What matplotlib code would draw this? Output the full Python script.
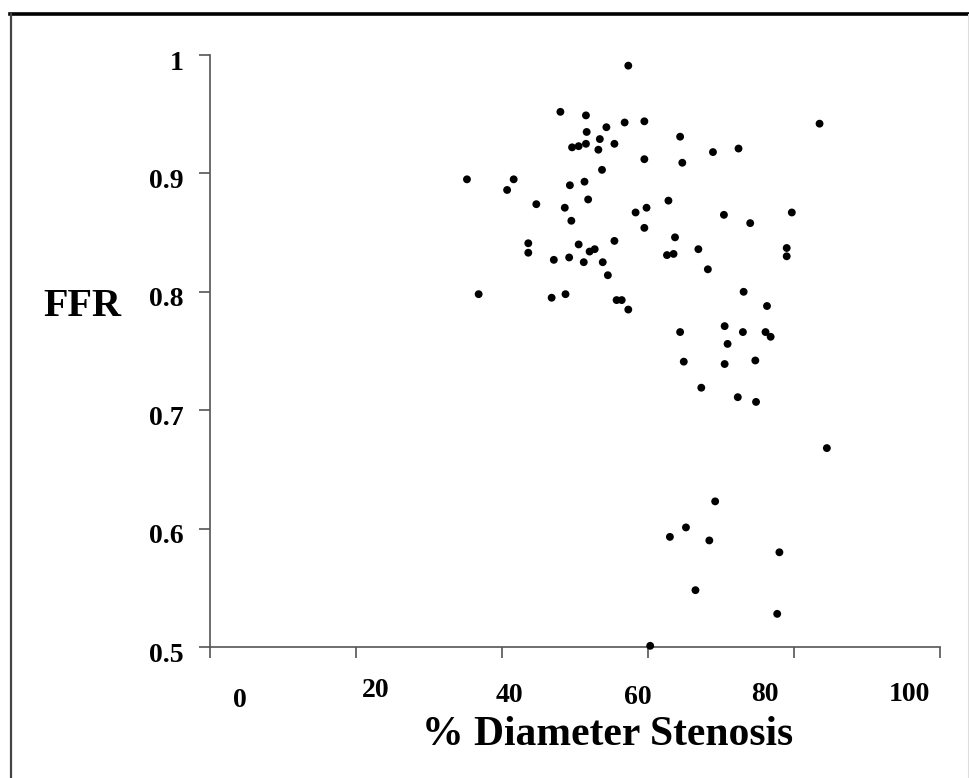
import matplotlib.pyplot as plt
from matplotlib.lines import Line2D
from matplotlib.transforms import ScaledTranslation

# % diameter stenosis vs FFR
stenosis = [57.3, 48.0, 51.5, 56.8, 59.5, 54.3, 51.6, 53.4, 49.6, 50.5,
            51.5, 53.2, 55.4, 59.5, 53.7, 35.2, 41.6, 40.7, 51.3, 49.3,
            51.8, 44.7, 48.6, 49.5, 58.3, 59.8, 59.5, 43.6, 43.6, 50.5,
            52.0, 52.7, 55.4, 47.1, 49.2, 51.2, 53.8, 54.5, 36.8, 46.8,
            48.7, 55.7, 56.4, 57.3,
            64.4, 64.7, 68.9, 72.4, 83.5, 62.8, 70.4, 74.0, 79.7, 63.7,
            62.6, 63.5, 66.9, 79.0, 79.0, 68.2, 73.1, 76.3, 70.5,
            64.4, 73.0, 76.1, 76.8, 70.9, 64.9, 70.5, 74.7, 67.3, 72.3,
            74.8, 84.5, 69.2, 65.2, 63.0, 68.4, 78.0, 66.5, 77.7, 60.3]
ffr = [0.991, 0.952, 0.949, 0.943, 0.944, 0.939, 0.935, 0.929, 0.922, 0.923,
       0.925, 0.920, 0.925, 0.912, 0.903, 0.895, 0.895, 0.886, 0.893, 0.890,
       0.878, 0.874, 0.871, 0.860, 0.867, 0.871, 0.854, 0.841, 0.833, 0.840,
       0.834, 0.836, 0.843, 0.827, 0.829, 0.825, 0.825, 0.814, 0.798, 0.795,
       0.798, 0.793, 0.793, 0.785,
       0.931, 0.909, 0.918, 0.921, 0.942, 0.877, 0.865, 0.858, 0.867, 0.846,
       0.831, 0.832, 0.836, 0.837, 0.830, 0.819, 0.800, 0.788, 0.771,
       0.766, 0.766, 0.766, 0.762, 0.756, 0.741, 0.739, 0.742, 0.719, 0.711,
       0.707, 0.668, 0.623, 0.601, 0.593, 0.590, 0.580, 0.548, 0.528, 0.501]

x_ticks = [0, 20, 40, 60, 80, 100]
y_ticks = [0.5, 0.6, 0.7, 0.8, 0.9, 1.0]
y_labels = ['0.5', '0.6', '0.7', '0.8', '0.9', '1']

plt.rcParams['font.family'] = ['Liberation Serif', 'DejaVu Serif']
plt.rcParams['font.weight'] = 'bold'

axis_col = '#555555'

fig = plt.figure(figsize=(9.69, 7.78), dpi=100)
ax = fig.add_axes([210 / 969, 1 - 647 / 778, 730 / 969, 592 / 778])

ax.scatter(stenosis, ffr, s=32, color='black', edgecolors='none', clip_on=False, zorder=3)

ax.set_xlim(0, 100)
ax.set_ylim(0.5, 1.0)
ax.spines['top'].set_visible(False)
ax.spines['right'].set_visible(False)
for s in ['left', 'bottom']:
    ax.spines[s].set_color(axis_col)
    ax.spines[s].set_linewidth(1.2)

ax.set_xticks(x_ticks)
ax.set_xticklabels([str(v) for v in x_ticks])
ax.set_yticks(y_ticks)
ax.set_yticklabels(y_labels)
ax.tick_params(axis='x', direction='out', length=8, width=1.2, color=axis_col,
               labelsize=20, pad=17)
ax.tick_params(axis='y', direction='out', length=8, width=1.2, color=axis_col,
               labelsize=20, pad=11)

# the scanned tick labels sit a bit off their ticks
x_shift = [(30, -6), (20, 4), (7, -1), (-10, -3), (-29, 0), (-31, 0)]
for lab, (dx, dy) in zip(ax.get_xticklabels(), x_shift):
    lab.set_transform(lab.get_transform() + ScaledTranslation(dx / 100, dy / 100, fig.dpi_scale_trans))
for lab in ax.get_yticklabels():
    lab.set_transform(lab.get_transform() + ScaledTranslation(0, -5 / 100, fig.dpi_scale_trans))

fig.text(82 / 969, 1 - 307 / 778, 'FFR', fontsize=29, fontweight='bold', ha='center', va='center')
fig.text(608 / 969, 1 - 735 / 778, '% Diameter Stenosis', fontsize=30, fontweight='bold',
         ha='center', va='center')

# frame around the figure
fig.add_artist(Line2D([10 / 969, 1], [1 - 14 / 778, 1 - 14 / 778], color='black', lw=2.6))
fig.add_artist(Line2D([11 / 969, 11 / 969], [0, 1 - 14 / 778], color='#444444', lw=1.6))
fig.add_artist(Line2D([967.5 / 969, 967.5 / 969], [0, 1 - 14 / 778], color='#dddddd', lw=0.8))

fig.savefig('out.png', dpi=100)
